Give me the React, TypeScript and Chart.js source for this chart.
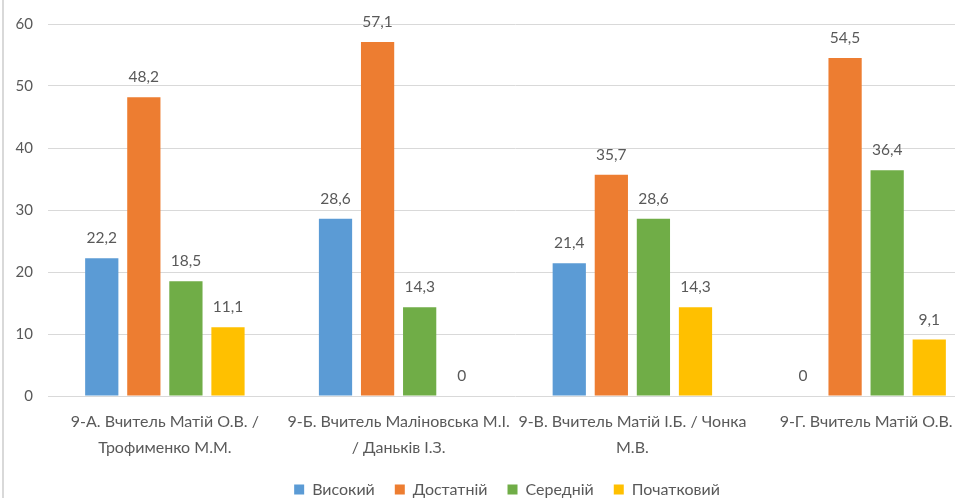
import React, { useEffect, useRef } from 'react';
import { Chart, registerables } from 'chart.js';

Chart.register(...registerables);

const categories: string[][] = [
  ['9-А. Вчитель Матій О.В. /', 'Трофименко М.М.'],
  ['9-Б. Вчитель Маліновська М.І.', '/ Даньків І.З.'],
  ['9-В. Вчитель Матій І.Б. / Чонка', 'М.В.'],
  ['9-Г. Вчитель Матій О.В.'],
];

const seriesNames = ['Високий', 'Достатній', 'Середній', 'Початковий'];
const vysokyi = [22.2, 28.6, 21.4, 0];
const dostatnii = [48.2, 57.1, 35.7, 54.5];
const serednii = [18.5, 14.3, 28.6, 36.4];
const pochatkovyi = [11.1, 0, 14.3, 9.1];
const seriesColors = ['#5B9BD5', '#ED7D31', '#70AD47', '#FFC000'];
const yTicks = [0, 10, 20, 30, 40, 50, 60];

const FONT = 'Lato';
const TEXT = '#595959';

const dataLabelPlugin = {
  id: 'dataLabelPlugin',
  afterDatasetsDraw(chart: any) {
    const ctx = chart.ctx;
    ctx.save();
    ctx.font = `15.5px ${FONT}`;
    ctx.fillStyle = TEXT;
    ctx.textAlign = 'center';
    ctx.textBaseline = 'middle';
    chart.data.datasets.forEach((ds: any, i: number) => {
      const meta = chart.getDatasetMeta(i);
      meta.data.forEach((el: any, j: number) => {
        const v = ds.data[j];
        const txt = String(v).replace('.', ',');
        ctx.fillText(txt, el.x, el.y - 20);
      });
    });
    ctx.restore();
  },
};

const legendShiftPlugin = {
  id: 'legendShiftPlugin',
  beforeDraw(chart: any) {
    const lg = chart.legend;
    if (lg) {
      lg.left = 15.5;
      lg.right = 983 + 15.5;
    }
  },
};

export default function App() {
  const ref = useRef<HTMLCanvasElement | null>(null);
  useEffect(() => {
    document.body.style.margin = '0';
    const canvas = ref.current!;
    const all = [vysokyi, dostatnii, serednii, pochatkovyi];
    const chart = new Chart(canvas, {
      type: 'bar',
      data: {
        labels: categories,
        datasets: all.map((d, i) => ({
          label: seriesNames[i],
          data: d,
          backgroundColor: seriesColors[i],
          borderWidth: 0,
          categoryPercentage: 0.72,
          barPercentage: 0.79,
        })),
      },
      options: {
        responsive: false,
        animation: false,
        devicePixelRatio: 1,
        layout: { padding: { top: 24, right: 41, left: 0, bottom: 3.5 } },
        plugins: {
          legend: {
            position: 'bottom',
            labels: {
              boxWidth: 10,
              boxHeight: 10,
              padding: 20,
              color: TEXT,
              font: { family: FONT, size: 16 },
            },
          },
          tooltip: { enabled: false },
        },
        scales: {
          x: {
            grid: { display: false, drawTicks: false },
            border: { display: false },
            ticks: {
              color: TEXT,
              font: { family: FONT, size: 16, lineHeight: '26px' as any },
              padding: 13,
              maxRotation: 0,
              autoSkip: false,
            },
            afterFit: (s: any) => { s.height = 65.5; },
          },
          y: {
            min: 0,
            max: 60,
            afterBuildTicks: (s: any) => { s.ticks = yTicks.map((v) => ({ value: v })); },
            grid: { color: '#D9D9D9', drawTicks: false, lineWidth: 1 },
            border: { display: false },
            ticks: {
              color: TEXT,
              font: { family: FONT, size: 15 },
              padding: 15,
            },
            afterFit: (s: any) => { s.width = 48; },
          },
        },
      },
      plugins: [dataLabelPlugin, legendShiftPlugin],
    });
    return () => chart.destroy();
  }, []);
  return (
    <div style={{ position: 'absolute', left: 0, top: 0, width: 955, height: 498, overflow: 'hidden', background: '#fff' }}>
      <canvas ref={ref} width={1024} height={511} style={{ width: 1024, height: 511, display: 'block' }} />
      <div style={{ position: 'absolute', left: 2, top: 0, width: 2, height: 498, background: '#D9D9D9' }} />
    </div>
  );
}
